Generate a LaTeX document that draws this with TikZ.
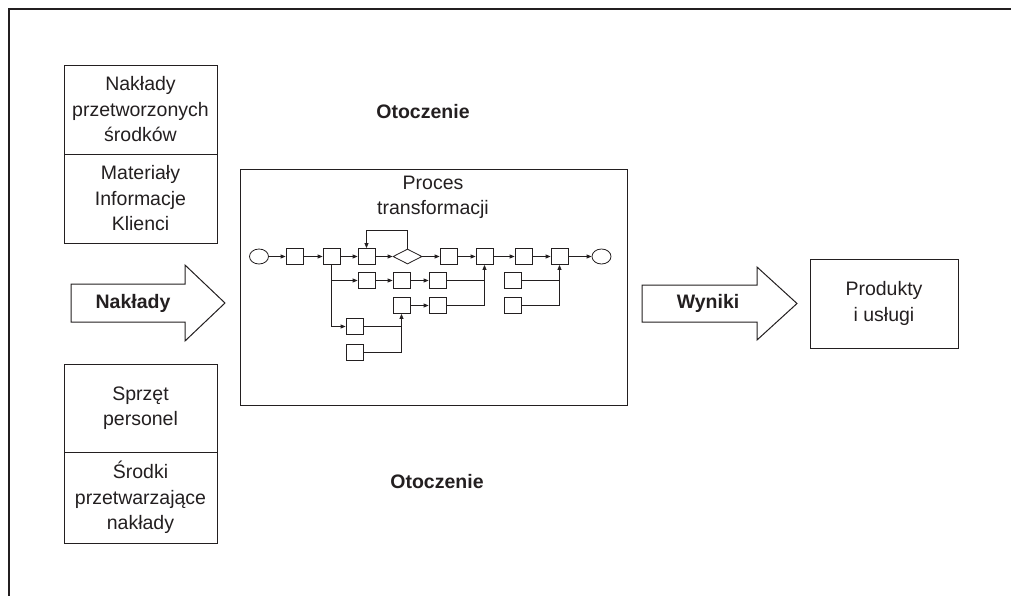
\documentclass[tikz,border=0pt]{standalone}
\usepackage{fontspec}
\setmainfont{Liberation Sans}
\usetikzlibrary{arrows.meta,shapes.geometric}
\definecolor{ink}{HTML}{231F20}
\begin{document}
\begin{tikzpicture}[x=1pt,y=-1pt,
  every node/.style={text=ink},
  txt/.style={font=\fontsize{19.5}{25.5}\selectfont, align=center, inner sep=0pt},
  btxt/.style={txt, font=\fontsize{19.5}{25.5}\selectfont\bfseries},
  stack/.style={txt, draw=ink, line width=1pt, minimum width=153pt},
  act/.style={draw=ink, line width=0.8pt, minimum width=17pt, minimum height=16pt, inner sep=0pt},
  term/.style={ellipse, draw=ink, line width=0.8pt, minimum width=19pt, minimum height=15pt, inner sep=0pt},
  choice/.style={diamond, draw=ink, line width=0.8pt, minimum width=29pt, minimum height=15pt, inner sep=0pt},
  flow/.style={draw=ink, line width=0.8pt, -{Triangle[length=5pt,width=4pt]}},
  link/.style={draw=ink, line width=0.8pt},
  bigarrow/.style={draw=ink, line width=1pt, fill=white},
  ]
\useasboundingbox (0,0) rectangle (1011,595);

% open outer frame
\draw[ink, line width=1.3pt] (9,600) -- (9,9) -- (1015,9);

% input stacks
\node[stack, minimum height=89pt] (inA) at (140.5,109.5) {Nakłady\\przetworzonych\\środków};
\node[stack, minimum height=89pt] (inB) at (140.5,198.5) {Materiały\\Informacje\\Klienci};
\node[stack, minimum height=88pt] (resA) at (140.5,408) {Sprzęt\\personel};
\node[stack, minimum height=91pt] (resB) at (140.5,497.5) {Środki\\przetwarzające\\nakłady};

% environment labels
\node[btxt] (envT) at (423,112) {Otoczenie};
\node[btxt] (envB) at (437,482) {Otoczenie};

% block arrows
\draw[bigarrow] (71,284) -- (185,284) -- (185,265) -- (225,303) -- (185,341) -- (185,322) -- (71,322) -- cycle;
\node[btxt] (inArrow) at (133,303) {Nakłady};
\draw[bigarrow] (642,285) -- (757,285) -- (757,267) -- (797,303.5) -- (757,340) -- (757,322) -- (642,322) -- cycle;
\node[btxt] (outArrow) at (708,303.5) {Wyniki};

% output box
\node[txt, draw=ink, line width=1pt, minimum width=148pt, minimum height=89pt] (out) at (884,303.5) {Produkty\\i usługi};

% transformation process
\node[draw=ink, line width=1pt, minimum width=387pt, minimum height=236pt, inner sep=0pt] (proc) at (433.5,287) {};
\node[txt] (procT) at (433,197.5) {Proces\\transformacji};

% main row
\node[term] (s) at (259,256.5) {};
\node[act] (b1) at (294.5,256.5) {};
\node[act] (b2) at (331.5,256.5) {};
\node[act] (b3) at (366.5,256.5) {};
\node[choice] (d) at (407.5,256.5) {};
\node[act] (b4) at (448.5,256.5) {};
\node[act] (b5) at (484.5,256.5) {};
\node[act] (b6) at (523.5,256.5) {};
\node[act] (b7) at (559.5,256.5) {};
\node[term] (e) at (601.5,256.5) {};

% side branches
\node[act] (r2a) at (366.5,280.5) {};
\node[act] (r2b) at (401.5,280.5) {};
\node[act] (r2c) at (437.5,280.5) {};
\node[act] (r2d) at (512.5,280.5) {};
\node[act] (r3a) at (401.5,305.5) {};
\node[act] (r3b) at (437.5,305.5) {};
\node[act] (r3d) at (512.5,305.5) {};
\node[act] (r4) at (354.5,326.5) {};
\node[act] (r5) at (354.5,352.5) {};

% main row connectors
\draw[flow] (s) -- (b1);
\draw[flow] (b1) -- (b2);
\draw[flow] (b2) -- (b3);
\draw[flow] (b3) -- (d);
\draw[flow] (d) -- (b4);
\draw[flow] (b4) -- (b5);
\draw[flow] (b5) -- (b6);
\draw[flow] (b6) -- (b7);
\draw[flow] (b7) -- (e);
\draw[flow] (d.north) -- ++(0,-18) -| (b3.north);

% branch connectors
\draw[link] (b2.south) -- (b2.south |- r4.west);
\draw[flow] (b2.south |- r2a.west) -- (r2a.west);
\draw[flow] (b2.south |- r4.west) -- (r4.west);
\draw[flow] (r2a) -- (r2b);
\draw[flow] (r2b) -- (r2c);
\draw[flow] (r3a) -- (r3b);
\draw[link] (r3b.east) -| (b5.south |- r2c.east);
\draw[flow] (r2c.east) -| (b5.south);
\draw[link] (r5.east) -| (r3a.south |- r4.east);
\draw[flow] (r4.east) -| (r3a.south);
\draw[link] (r3d.east) -| (b7.south |- r2d.east);
\draw[flow] (r2d.east) -| (b7.south);
\end{tikzpicture}
\end{document}
